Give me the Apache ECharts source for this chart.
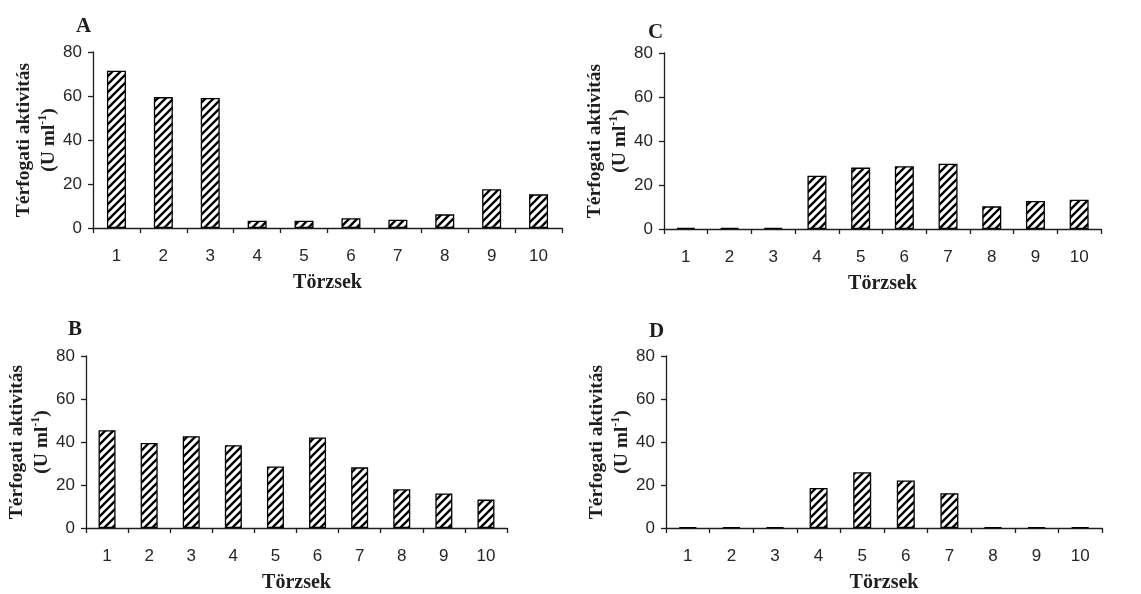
<!DOCTYPE html>
<html>
<head>
<meta charset="utf-8">
<script src="https://cdn.jsdelivr.net/npm/echarts@6/dist/echarts.min.js"></script>
<style>
  html, body { margin: 0; padding: 0; background: #fff; }
  #chart { width: 1141px; height: 594px; }
</style>
</head>
<body>
<div id="chart"></div>
<script>
// Strains (x categories) and y-axis range
const strains = ['1', '2', '3', '4', '5', '6', '7', '8', '9', '10'];
const yMin = 0, yMax = 80, yStep = 20;

// Volumetric activity (U ml-1) per strain, one array per panel
const panelA = [71.5, 59.5, 59.1, 3.3, 3.3, 4.4, 3.8, 6.2, 17.6, 15.3];
const panelB = [45.5, 39.5, 42.7, 38.5, 28.6, 42.1, 28.2, 18.0, 16.1, 13.2];
const panelC = [0.5, 0.5, 0.5, 24.2, 27.9, 28.5, 29.7, 10.3, 12.7, 13.3];
const panelD = [0.4, 0.4, 0.4, 18.6, 25.9, 22.1, 16.2, 0.4, 0.4, 0.4];

const panelLetters = ['A', 'B', 'C', 'D'];
const xTitle = 'Törzsek';
const yTitle = 'Térfogati aktivitás';
const yUnit = ['(U ml', '-1', ')'];

const panels = [panelA, panelB, panelC, panelD];

// Diagonal hatch fill for the bars
function hatchPattern() {
  const s = 8;
  const c = document.createElement('canvas');
  c.width = s; c.height = s;
  const g = c.getContext('2d');
  g.fillStyle = '#fff';
  g.fillRect(0, 0, s, s);
  g.strokeStyle = '#000';
  g.lineWidth = 2.3;
  g.beginPath();
  g.moveTo(-1, s + 1); g.lineTo(s + 1, -1);
  g.moveTo(-s / 2 - 1, s / 2 + 1); g.lineTo(s / 2 + 1, -s / 2 - 1);
  g.moveTo(s / 2 - 1, s * 1.5 + 1); g.lineTo(s * 1.5 + 1, s / 2 - 1);
  g.stroke();
  return c;
}
const hatch = { image: hatchPattern(), repeat: 'repeat' };

const serif = '"Liberation Serif", "Times New Roman", serif';
const sans = '"Liberation Sans", Arial, sans-serif';
const ink = '#1e1e1e';

// Grid placement: A (top-left), B (bottom-left), C (top-right), D (bottom-right)
const grids = [
  { left: 93, top: 52, width: 469, height: 176 },
  { left: 86, top: 356, width: 421, height: 176 },
  { left: 664, top: 53, width: 437, height: 176 },
  { left: 666, top: 356, width: 436, height: 176 }
];
const letterPos = [
  { left: 71, top: 11 },
  { left: 63, top: 314 },
  { left: 643, top: 17 },
  { left: 644, top: 316 }
];
const barWidths = [19, 17, 19, 18];

const option = {
  backgroundColor: '#fff',
  animation: false,
  title: panelLetters.map((l, i) => ({
    text: l,
    left: letterPos[i].left,
    top: letterPos[i].top,
    textStyle: { fontFamily: serif, fontWeight: 'bold', fontSize: 21, color: ink }
  })),
  grid: grids,
  xAxis: grids.map((g, i) => ({
    type: 'category',
    gridIndex: i,
    data: strains,
    axisLine: { lineStyle: { color: ink, width: 1.3 } },
    axisTick: { show: true, length: 5, lineStyle: { color: ink, width: 1.3 } },
    axisLabel: { fontFamily: sans, fontSize: 17, color: '#262626', margin: 20 },
    name: xTitle,
    nameLocation: 'middle',
    nameGap: 45,
    nameTextStyle: { fontFamily: serif, fontWeight: 'bold', fontSize: 20, color: ink }
  })),
  yAxis: grids.map((g, i) => ({
    type: 'value',
    gridIndex: i,
    min: yMin,
    max: yMax,
    interval: yStep,
    splitLine: { show: false },
    axisLine: { show: true, lineStyle: { color: ink, width: 1.3 } },
    axisTick: { show: true, length: 5, lineStyle: { color: ink, width: 1.3 } },
    axisLabel: { fontFamily: sans, fontSize: 17, color: '#262626', margin: 11 },
    name: '{t|' + yTitle + '}\n{t|' + yUnit[0] + '}{s|' + yUnit[1] + '}{t|' + yUnit[2] + '}',
    nameLocation: 'middle',
    nameRotate: 90,
    nameGap: 30,
    nameTextStyle: {
      rich: {
        t: { fontFamily: serif, fontWeight: 'bold', fontSize: 19.5, lineHeight: 25, color: ink },
        s: { fontFamily: serif, fontWeight: 'bold', fontSize: 12, lineHeight: 25, verticalAlign: 'top', color: ink }
      }
    }
  })),
  series: panels.map((d, i) => ({
    type: 'bar',
    xAxisIndex: i,
    yAxisIndex: i,
    data: d,
    barWidth: barWidths[i],
    itemStyle: { color: hatch, borderColor: '#000', borderWidth: 1.3 }
  }))
};

const chart = echarts.init(document.getElementById('chart'), null, { renderer: 'canvas' });
chart.setOption(option);
</script>
</body>
</html>
